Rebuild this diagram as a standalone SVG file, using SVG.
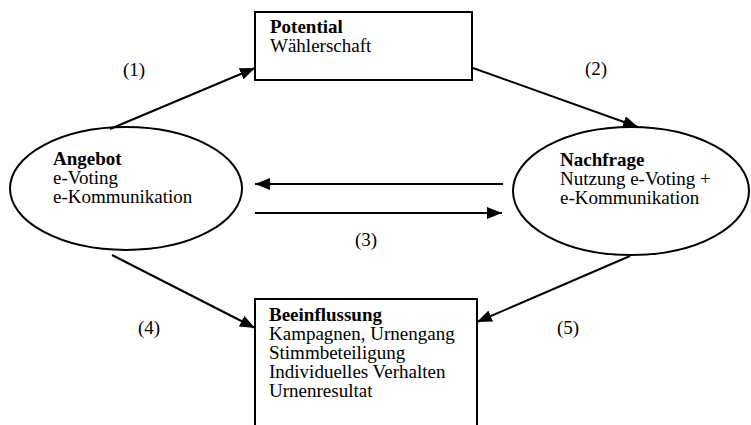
<svg xmlns="http://www.w3.org/2000/svg" width="751" height="425" viewBox="0 0 751 425">
<defs>
<marker id="ah" markerUnits="userSpaceOnUse" markerWidth="16" markerHeight="12" refX="15" refY="6" orient="auto">
<path d="M0,0 L15,6 L0,12 z" fill="#000"/>
</marker>
<style>
.shape{fill:#fff;stroke:#000;stroke-width:2}
.t{font-family:"Liberation Serif","Times New Roman",serif;font-size:19px;fill:#000}
.b{font-weight:bold}
.c{stroke:#000;stroke-width:2;fill:none;marker-end:url(#ah)}
</style>
</defs>
<rect width="751" height="425" fill="#fff"/>
<g id="potential">
<rect class="shape" x="255" y="12" width="217" height="68"/>
<text class="t b" x="270" y="33">Potential</text>
<text class="t" x="270" y="52">Wählerschaft</text>
</g>
<g id="angebot">
<ellipse class="shape" cx="126" cy="188.5" rx="116" ry="61.5"/>
<text class="t b" x="53" y="165">Angebot</text>
<text class="t" x="53" y="184">e-Voting</text>
<text class="t" x="53" y="203">e-Kommunikation</text>
</g>
<g id="nachfrage">
<ellipse class="shape" cx="631" cy="191" rx="118" ry="64"/>
<text class="t b" x="560" y="166">Nachfrage</text>
<text class="t" x="560" y="185">Nutzung e-Voting +</text>
<text class="t" x="560" y="204">e-Kommunikation</text>
</g>
<g id="beeinflussung">
<rect class="shape" x="255" y="299" width="222" height="135"/>
<text class="t b" x="269" y="321">Beeinflussung</text>
<text class="t" x="269" y="340">Kampagnen, Urnengang</text>
<text class="t" x="269" y="359">Stimmbeteiligung</text>
<text class="t" x="269" y="378">Individuelles Verhalten</text>
<text class="t" x="269" y="397">Urnenresultat</text>
</g>
<g id="connectors">
<line class="c" x1="110" y1="129" x2="255" y2="68"/>
<line class="c" x1="473" y1="68" x2="638" y2="127"/>
<line class="c" x1="503" y1="184" x2="255" y2="184"/>
<line class="c" x1="255" y1="213" x2="502" y2="213"/>
<line class="c" x1="112" y1="255" x2="255" y2="328"/>
<line class="c" x1="630" y1="256" x2="477" y2="322"/>
</g>
<g id="labels">
<text class="t" x="123" y="76">(1)</text>
<text class="t" x="585" y="75">(2)</text>
<text class="t" x="355" y="246">(3)</text>
<text class="t" x="138" y="334">(4)</text>
<text class="t" x="557" y="334">(5)</text>
</g>
</svg>
